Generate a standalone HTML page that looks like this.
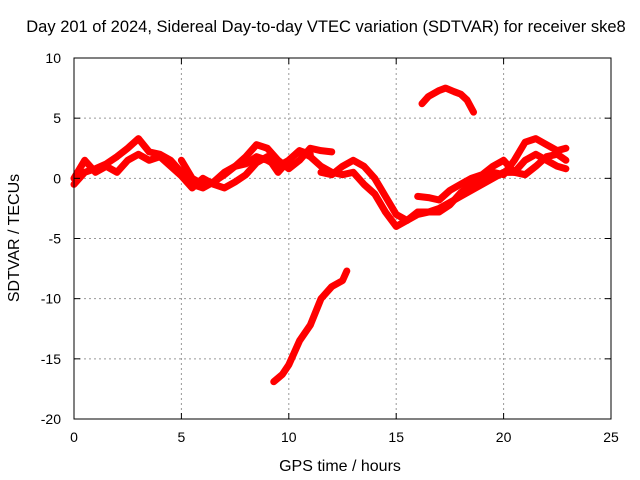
<!DOCTYPE html>
<html><head><meta charset="utf-8"><style>
body{margin:0;background:#fff}
svg{display:block;font-family:"Liberation Sans",sans-serif;font-size:14px}
</style></head><body>
<svg id="chart" width="640" height="480">
<text x="326" y="32" text-anchor="middle" style="font-size:16.5px">Day 201 of 2024, Sidereal Day-to-day VTEC variation (SDTVAR) for receiver ske8</text>
<g id="grid"></g>
<g id="series"></g>
<rect x="74" y="58" width="537" height="361" fill="none" stroke="#000" stroke-width="1"/>
<g id="axes"></g>
<text x="340" y="471" text-anchor="middle" style="font-size:16px">GPS time / hours</text>
<text transform="translate(19,238) rotate(-90)" text-anchor="middle" style="font-size:16px">SDTVAR / TECUs</text>
</svg>
<script>
const xTicks=[0,5,10,15,20,25];
const yTicks=[10,5,0,-5,-10,-15,-20];
const track1=[[0,-0.5],[0.5,0.5],[1,0.8],[1.5,1.2],[2,1.8],[2.5,2.5],[3,3.3],[3.5,2.2],[4,2],[4.5,1.5],[5,0.5],[5.5,-0.5],[6,-0.8],[6.5,-0.3],[7,0.3],[7.5,1],[8,1.8],[8.5,2.8],[9,2.5],[9.5,1.5],[10,0.8],[10.5,1.5],[11,2.5],[11.5,2.3],[12,2.2]];
const track2=[[0,0],[0.5,1.5],[1,0.5],[1.5,1],[2,0.5],[2.5,1.5],[3,2],[3.5,1.5],[4,1.8],[4.5,1],[5,0.2],[5.5,-0.8],[6,0],[6.5,-0.5],[7,-0.8],[7.5,-0.3],[8,0.3],[8.5,1.3],[9,1.8],[9.5,0.5],[10,1.5],[10.5,2.3],[11,1.8],[11.5,1],[12,0.5],[12.5,0.3],[13,0.5],[13.5,-0.5],[14,-1.3],[14.5,-2.8],[15,-4],[15.5,-3.5],[16,-3],[16.5,-2.8],[17,-2.5],[17.5,-2],[18,-1.5],[18.5,-1],[19,-0.5],[19.5,0],[20,0.5],[20.5,0.5],[21,1.5],[21.5,2],[22,1.5],[22.5,1],[22.9,0.8]];
const track3=[[11.5,0.5],[12,0.3],[12.5,1],[13,1.5],[13.5,1],[14,0],[14.5,-1.5],[15,-3],[15.5,-3.5],[16,-2.8],[16.5,-2.8],[17,-2.8],[17.5,-2.2],[18,-1.2],[18.5,-0.5],[19,0],[19.5,0.5],[20,0.3],[20.5,1.5],[21,3],[21.5,3.3],[22,2.8],[22.5,2.3],[22.9,2.5]];
const track4=[[16,-1.5],[16.5,-1.6],[17,-1.8],[17.5,-1],[18,-0.5],[18.5,0],[19,0.3],[19.5,1],[20,1.5],[20.5,0.5],[21,0.3],[21.5,1],[22,1.8],[22.5,2],[22.9,1.5]];
const track5=[[5,1.5],[5.5,0],[6,-0.5],[6.5,-0.3],[7,0.5],[7.5,1],[8,1.2],[8.5,1.8],[9,1.5],[9.5,1],[10,1.5],[10.5,2.3],[11,2]];
const track6=[[16.2,6.2],[16.5,6.8],[17,7.3],[17.3,7.5],[17.7,7.2],[18,7],[18.3,6.5],[18.6,5.5]];
const track7=[[9.3,-16.9],[9.7,-16.3],[10,-15.5],[10.5,-13.5],[11,-12.2],[11.5,-10],[12,-9],[12.5,-8.5],[12.7,-7.7]];
const tracks=[track1,track2,track3,track4,track5,track6,track7];
const X0=74,X1=611,Y0=419,Y1=58;
const xs=v=>X0+(v-0)/25*(X1-X0);
const ys=v=>Y0-(v+20)/30*(Y0-Y1);
const NS='http://www.w3.org/2000/svg';
function mk(t,a,p){const e=document.createElementNS(NS,t);for(const k in a)e.setAttribute(k,a[k]);p.appendChild(e);return e;}
const grid=document.getElementById('grid'),axes=document.getElementById('axes'),ser=document.getElementById('series');
xTicks.forEach(t=>{const x=xs(t);
 if(t>0&&t<25){const l=mk('line',{x1:x,x2:x,y1:Y1,y2:Y0,stroke:'#999','stroke-dasharray':'2,3'},grid);}
 mk('line',{x1:x,x2:x,y1:Y0,y2:Y0-6,stroke:'#000'},axes);mk('line',{x1:x,x2:x,y1:Y1,y2:Y1+6,stroke:'#000'},axes);
 const tx=mk('text',{x:x,y:Y0+23,'text-anchor':'middle'},axes);tx.textContent=t;
 });
yTicks.forEach(t=>{const y=ys(t);
 if(t>-20&&t<10){const l=mk('line',{x1:X0,x2:X1,y1:y,y2:y,stroke:'#999','stroke-dasharray':'2,3'},grid);}
 mk('line',{x1:X0,x2:X0+6,y1:y,y2:y,stroke:'#000'},axes);mk('line',{x1:X1,x2:X1-6,y1:y,y2:y,stroke:'#000'},axes);
 const tx=mk('text',{x:X0-13,y:y+5,'text-anchor':'end'},axes);tx.textContent=t;
 });
tracks.forEach((tr,i)=>{
 const p=mk('polyline',{points:tr.map(d=>xs(d[0])+','+ys(d[1])).join(' '),fill:'none',stroke:'#ff0000','stroke-width':7,'stroke-linejoin':'round','stroke-linecap':'round'},ser);
 
 
});
</script>
</body></html>
